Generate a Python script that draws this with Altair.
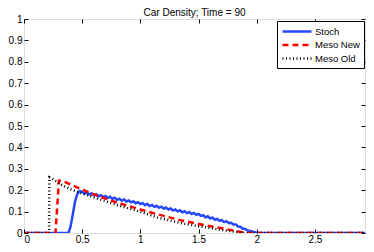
import altair as alt
import pandas as pd

series_names = ["Stoch", "Meso New", "Meso Old"]
series_colors = ["#2447ff", "#ff0000", "#000000"]
series_dash = [[1, 0], [6, 4], [1, 2.5]]
series_width = [2.5, 2.5, 1]

x_ticks = [0, 0.5, 1, 1.5, 2, 2.5]
y_ticks = [0, 0.1, 0.2, 0.3, 0.4, 0.5, 0.6, 0.7, 0.8, 0.9, 1]

stoch_x = [0, 0.37, 0.385, 0.40, 0.42, 0.44, 0.455, 0.47, 0.48,
           0.50, 0.52, 0.54, 0.56, 0.58, 0.60, 0.62, 0.64, 0.66, 0.68,
           0.70, 0.72, 0.74, 0.76, 0.78, 0.80, 0.82, 0.84, 0.86, 0.88,
           0.90, 0.92, 0.94, 0.96, 0.98, 1.00, 1.02, 1.04, 1.06, 1.08,
           1.10, 1.12, 1.14, 1.16, 1.18, 1.20, 1.22, 1.24, 1.26, 1.28,
           1.30, 1.32, 1.34, 1.36, 1.38, 1.40, 1.42, 1.44, 1.46, 1.48,
           1.50, 1.52, 1.54, 1.56, 1.58, 1.60, 1.62, 1.64, 1.66, 1.68,
           1.70, 1.72, 1.74, 1.76, 1.78, 1.80, 1.82, 1.84, 1.86, 1.88,
           1.90, 1.92, 1.94, 1.96, 1.98, 2.00, 2.03, 2.93]
stoch_y = [0, 0, 0.005, 0.03, 0.09, 0.15, 0.178, 0.19, 0.196,
           0.192, 0.184, 0.189, 0.180, 0.185, 0.176, 0.181, 0.172, 0.177, 0.168,
           0.173, 0.164, 0.169, 0.160, 0.165, 0.155, 0.160, 0.151, 0.157, 0.147,
           0.152, 0.143, 0.148, 0.139, 0.144, 0.135, 0.140, 0.130, 0.136, 0.126,
           0.131, 0.122, 0.127, 0.118, 0.123, 0.114, 0.119, 0.110, 0.115, 0.105,
           0.110, 0.101, 0.106, 0.097, 0.102, 0.093, 0.098, 0.089, 0.094, 0.085,
           0.089, 0.080, 0.083, 0.073, 0.078, 0.068, 0.072, 0.062, 0.066, 0.057,
           0.060, 0.051, 0.055, 0.046, 0.048, 0.039, 0.040, 0.030, 0.029, 0.020,
           0.019, 0.012, 0.010, 0.007, 0.004, 0.002, 0, 0]

new_x = [0, 0.27, 0.285, 0.30, 0.32, 0.40, 0.47, 0.635, 0.80, 1.00,
         1.15, 1.357, 1.50, 1.70, 1.87, 1.93, 2.93]
new_y = [0, 0, 0.12, 0.245, 0.246, 0.227, 0.21, 0.173, 0.142, 0.11,
         0.087, 0.058, 0.042, 0.022, 0.004, 0, 0]

old_x = [0, 0.215, 0.218, 0.24, 0.32, 0.41, 0.50, 0.635, 0.80, 1.00,
         1.15, 1.36, 1.50, 1.70, 1.90, 2.93]
old_y = [0, 0, 0.26, 0.255, 0.226, 0.202, 0.185, 0.16, 0.131, 0.099,
         0.072, 0.045, 0.032, 0.014, 0, 0]

rows = []
for name, xs, ys in [("Stoch", stoch_x, stoch_y),
                     ("Meso New", new_x, new_y),
                     ("Meso Old", old_x, old_y)]:
    for i, (xv, yv) in enumerate(zip(xs, ys)):
        rows.append({"series": name, "x": xv, "y": yv, "i": i})
df = pd.DataFrame(rows)

FONT = "Liberation Sans"
W, H = 341, 214
xscale = alt.Scale(domain=[0, 2.93], nice=False, zero=False)
yscale = alt.Scale(domain=[0, 1], nice=False, zero=False)

common_axis = dict(grid=False, domain=False, tickSize=4, offset=-4,
                   tickColor="black", tickWidth=1, labelColor="black",
                   labelFont=FONT, labelFontSize=10, title=None)
bottom_axis = alt.Axis(orient="bottom", values=x_ticks, format="~g",
                       labelPadding=1, **common_axis)
left_axis = alt.Axis(orient="left", values=y_ticks, format="~g",
                     labelPadding=2, **common_axis)
top_axis = alt.Axis(orient="top", values=x_ticks, labels=False,
                    minExtent=0, maxExtent=0, **common_axis)
right_axis = alt.Axis(orient="right", values=y_ticks, labels=False,
                      minExtent=0, maxExtent=0, **common_axis)

legend = alt.Legend(title=None, orient="none", legendX=W - 88, legendY=2,
                    strokeColor="black", fillColor="white", padding=4,
                    cornerRadius=0, labelFont=FONT, labelFontSize=9.5,
                    labelColor="black", symbolType="M-2.9,0H2.9", symbolSize=100,
                    symbolOffset=9.5, labelOffset=11.5, rowPadding=1.5)

color = alt.Color("series:N", scale=alt.Scale(domain=series_names, range=series_colors), legend=legend)
dash = alt.StrokeDash("series:N", scale=alt.Scale(domain=series_names, range=series_dash), legend=legend)
sw = alt.StrokeWidth("series:N", scale=alt.Scale(domain=series_names, range=series_width), legend=legend)


def line_layer(name):
    return alt.Chart(df).transform_filter(alt.datum.series == name).mark_line(
        strokeCap="butt", clip=True
    ).encode(
        x=alt.X("x:Q", scale=xscale, axis=bottom_axis),
        y=alt.Y("y:Q", scale=yscale, axis=left_axis),
        order="i:Q",
        color=color, strokeDash=dash, strokeWidth=sw,
    )


lines = alt.layer(*[line_layer(n) for n in series_names])
frame = alt.Chart(df).mark_line(opacity=0).encode(
    x=alt.X("x:Q", scale=xscale, axis=top_axis),
    y=alt.Y("y:Q", scale=yscale, axis=right_axis),
    order="i:Q",
    detail="series:N",
)

chart = alt.layer(lines, frame).resolve_axis(x="independent", y="independent").properties(
    width=W, height=H,
    title=alt.Title("Car Density; Time = 90", font=FONT, fontSize=10,
                    fontWeight="normal", color="black", offset=-3.5),
    autosize=alt.AutoSizeParams(type="none"),
    padding={"left": 16, "top": 11, "right": 1, "bottom": 11},
).configure_view(stroke="black", strokeWidth=1).configure(background="white")

chart.save("out.html", embed_options={"renderer": "svg", "actions": False})
